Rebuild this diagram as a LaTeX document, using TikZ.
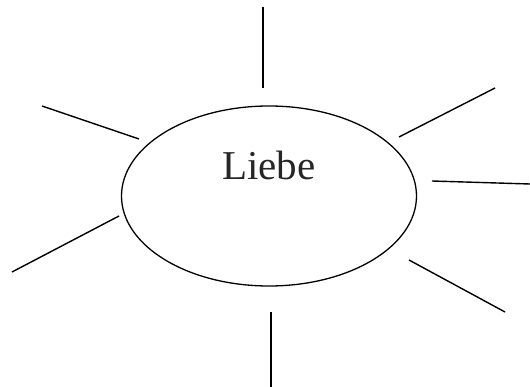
\documentclass[tikz,border=0pt]{standalone}
\usepackage{fontspec}
\setmainfont{Liberation Serif}
\usetikzlibrary{shapes.geometric}

\begin{document}
\begin{tikzpicture}[
      x=1pt,y=-1pt,
      blob/.style={draw,ellipse,line width=1.3pt,minimum width=295pt,minimum height=180pt,inner sep=0pt},
      word/.style={font=\fontsize{41}{49}\selectfont,text=black!85,anchor=base},
      ray/.style={draw,line width=1.4pt}
    ]
    \useasboundingbox (0,0) rectangle (530,387);

    \node[blob] (blob)  at (269,196) {};
    \node[word] (liebe) at (269,180) {Liebe};

    % ends of the rays, inner and outer
    \coordinate (topIn)   at (263,88);   \coordinate (topOut)   at (263,7);
    \coordinate (ulIn)    at (139,139);  \coordinate (ulOut)    at (42,106);
    \coordinate (urIn)    at (399,137);  \coordinate (urOut)    at (495,88);
    \coordinate (rIn)     at (432,181);  \coordinate (rOut)     at (530,184);
    \coordinate (llIn)    at (119,216);  \coordinate (llOut)    at (12,272);
    \coordinate (lrIn)    at (409,260);  \coordinate (lrOut)    at (505,312);
    \coordinate (botIn)   at (271,312);  \coordinate (botOut)   at (271,387);

    \draw[ray] (topIn) -- (topOut);
    \draw[ray] (ulIn)  -- (ulOut);
    \draw[ray] (urIn)  -- (urOut);
    \draw[ray] (rIn)   -- (rOut);
    \draw[ray] (llIn)  -- (llOut);
    \draw[ray] (lrIn)  -- (lrOut);
    \draw[ray] (botIn) -- (botOut);
  \end{tikzpicture}
\end{document}
